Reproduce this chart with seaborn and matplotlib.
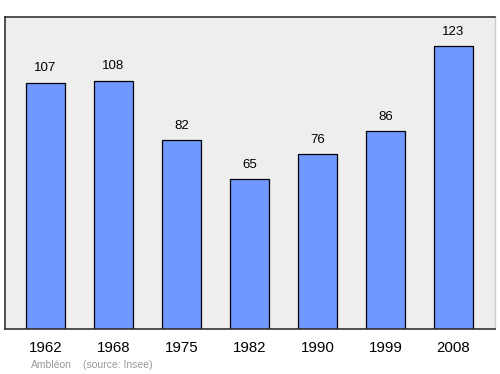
import matplotlib
matplotlib.use("Agg")
import matplotlib.pyplot as plt
import seaborn as sns
import pandas as pd

years = ["1962", "1968", "1975", "1982", "1990", "1999", "2008"]
population = [107, 108, 82, 65, 76, 86, 123]

sns.set_theme(style="white")
plt.rcParams['font.family'] = ['Liberation Sans', 'DejaVu Sans']

df = pd.DataFrame({"year": years, "pop": population})

fig = plt.figure(figsize=(5, 3.74), dpi=100)
ax = fig.add_axes([5/500, 1 - 329/374, 490/500, 312/374])
ax.set_facecolor("#eeeeee")

sns.barplot(data=df, x="year", y="pop", ax=ax, color="#7099ff", saturation=1,
            width=0.575, edgecolor="black", linewidth=0.9)

ax.set_xlim(-0.596, 6.61)
ax.set_ylim(0, 135.6)
ax.set_xlabel("")
ax.set_ylabel("")
ax.set_yticks([])
ax.tick_params(axis="x", length=0, pad=9, labelsize=10.8, colors="black")

for s in ["left", "top", "bottom"]:
    ax.spines[s].set_color("#333333")
    ax.spines[s].set_linewidth(1.2)
ax.spines["right"].set_color("#cccccc")
ax.spines["right"].set_linewidth(1.0)

for i, v in enumerate(population):
    ax.annotate(str(v), (i, v), xytext=(0, 6), textcoords="offset points",
                ha="center", va="bottom", fontsize=9.5, color="black")

fig.text(31/500, 1 - 365/374, "Ambléon", fontsize=7.5, color="#999999", va="center")
fig.text(83/500, 1 - 365/374, "(source: Insee)", fontsize=7.5, color="#999999", va="center")

fig.savefig("out.png", dpi=100)
